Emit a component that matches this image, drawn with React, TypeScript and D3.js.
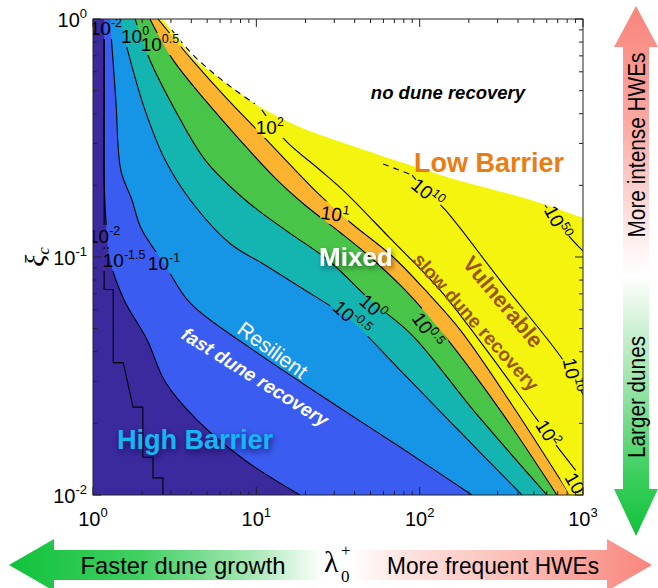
import React from 'react';
import * as d3 from 'd3';

type Pt = [number, number];

// axes
const lambdaDomain: Pt = [1, 1000];
const xiDomain: Pt = [0.01, 1];

// filled bands, lowest level first (the last one is everything above 10^1)
const bandColors = ['#3a2a9e', '#3a5cf0', '#1694e6', '#14b4b0', '#48c448', '#fcb430', '#f4f40e'];

// band boundaries, [lambda, xi], top edge -> bottom edge
const levelM15: Pt[] = [[1.17, 1], [1.17, 0.457], [1.17, 0.211], [1.2, 0.143], [1.27, 0.097], [1.55, 0.066], [2.14, 0.045], [2.76, 0.03], [4.33, 0.0207], [8.52, 0.014], [18.5, 0.01]];
const levelM1: Pt[] = [[1.27, 1], [1.38, 0.457], [1.48, 0.232], [1.73, 0.174], [1.97, 0.132], [2.76, 0.0926], [3.93, 0.0641], [9.15, 0.0415], [32.5, 0.0232], [75.8, 0.0159], [209, 0.01]];
const levelM05: Pt[] = [[1.46, 1], [1.69, 0.673], [2.08, 0.415], [2.76, 0.256], [3.93, 0.174], [6.9, 0.114], [11.3, 0.0926], [18.5, 0.0748], [37.5, 0.0543], [75.8, 0.0335], [177, 0.0184], [423, 0.01]];
const level0: Pt[] = [[1.81, 1], [2.23, 0.673], [3.18, 0.415], [4.85, 0.256], [8.52, 0.174], [15, 0.13], [27.5, 0.0971], [49.7, 0.066], [89.8, 0.047], [218, 0.0223], [602, 0.01]];
const level05: Pt[] = [[2.23, 1], [3.09, 0.673], [4.85, 0.457], [7.94, 0.31], [13, 0.215], [19.9, 0.165], [32.5, 0.127], [49.7, 0.1], [81.3, 0.0727], [133, 0.0494], [310, 0.0228], [693, 0.01]];
const level1: Pt[] = [[2.5, 1], [4.04, 0.673], [6.71, 0.457], [10.8, 0.326], [17.3, 0.232], [24.5, 0.182], [37.5, 0.14], [68.7, 0.1], [108, 0.0727], [177, 0.0494], [368, 0.0239], [833, 0.01]];

// edge of the no-recovery (white) region, top edge -> right edge
const recoveryEdge: Pt[] = [[2.65, 1], [3.31, 0.832], [4.1, 0.686], [5.59, 0.582], [7.4, 0.503], [10.8, 0.423], [17.3, 0.359], [24.5, 0.326], [37.5, 0.295], [91, 0.241], [153, 0.215], [474, 0.174], [1000, 0.146]];

// contour lines that are not band edges
const levelM2: Pt[] = [[1.17, 1], [1.17, 0.073], [1.33, 0.073], [1.33, 0.036], [1.53, 0.036], [1.76, 0.0234], [2.02, 0.0234], [2.02, 0.0144], [2.33, 0.0144], [2.33, 0.0118], [2.68, 0.0118], [2.68, 0.01]];
const level2: Pt[] = [[10.8, 0.415], [15, 0.31], [24.5, 0.232], [34.9, 0.1875], [65.8, 0.12], [133, 0.0727], [270, 0.0388], [602, 0.0182], [1000, 0.0116]];
const level2Dashed: Pt[] = [[3.04, 0.899], [3.93, 0.727], [5.35, 0.599], [7.4, 0.503], [9.8, 0.44]];
const level10: Pt[] = [[89.8, 0.221], [112, 0.186], [143, 0.158], [310, 0.08], [755, 0.0369], [932, 0.0287], [1000, 0.0265]];
const level10Dashed: Pt[] = [[59.7, 0.246], [89.8, 0.221]];
const level50: Pt[] = [[585, 0.165], [703, 0.14], [833, 0.121], [1000, 0.106]];

// inline contour labels (exponent of 10, where, rotation)
const contourLabels = [
  { exp: '-2', lambda: 1.2, xi: 0.917, angle: 0 },
  { exp: '0', lambda: 1.81, xi: 0.848, angle: 0 },
  { exp: '0.5', lambda: 2.57, xi: 0.785, angle: 0 },
  { exp: '2', lambda: 12.1, xi: 0.352, angle: 0 },
  { exp: '-2', lambda: 1.17, xi: 0.1225, angle: 0 },
  { exp: '-1.5', lambda: 1.55, xi: 0.0971, angle: 0 },
  { exp: '-1', lambda: 2.72, xi: 0.0944, angle: 0 },
  { exp: '1', lambda: 30.3, xi: 0.152, angle: 8 },
  { exp: '10', lambda: 112, xi: 0.186, angle: 40 },
  { exp: '50', lambda: 703, xi: 0.14, angle: 62 },
  { exp: '0', lambda: 51.8, xi: 0.0617, angle: 42 },
  { exp: '-0.5', lambda: 38.5, xi: 0.0554, angle: 42 },
  { exp: '0.5', lambda: 112, xi: 0.0494, angle: 55 },
  { exp: '10', lambda: 869, xi: 0.0319, angle: 78 },
  { exp: '2', lambda: 611, xi: 0.0182, angle: 58 },
  { exp: '1', lambda: 919, xi: 0.0109, angle: 60 },
];

const sans = "'Liberation Sans', Arial, Helvetica, sans-serif";
const serif = "'Liberation Serif', 'Times New Roman', serif";

export default function App() {
  const x = d3.scaleLog().domain(lambdaDomain).range([93, 583]);
  const y = d3.scaleLog().domain(xiDomain).range([495, 19]);
  const [left, right] = x.range();
  const [bottom, top] = y.range();

  const smooth = d3.line<Pt>().x(d => x(d[0])).y(d => y(d[1])).curve(d3.curveCatmullRom.alpha(0.5));
  const straight = d3.line<Pt>().x(d => x(d[0])).y(d => y(d[1]));

  const bounds = [levelM15, levelM1, levelM05, level0, level05, level1];
  const bandPath = (pts: Pt[]) => smooth(pts) + `L${right},${bottom}L${right},${top}Z`;
  const whitePath = smooth(recoveryEdge) + `L${right},${top}Z`;

  const isMajor = (v: number) => Math.abs(Math.log10(v) - Math.round(Math.log10(v))) < 1e-6;
  const xt = x.ticks();
  const yt = y.ticks();

  const labelW = (exp: string) => 22 + exp.length * 6.5;

  // arrows
  const vArrow: Pt[] = [[636, 6], [658, 47], [649, 47], [649, 489], [658, 489], [636, 536], [614, 489], [623, 489], [623, 47], [614, 47]];
  const hArrow: Pt[] = [[9, 565], [54, 539], [54, 550], [607, 550], [607, 539], [652, 565], [607, 591], [607, 580], [54, 580], [54, 591]];
  const polyPath = (p: Pt[]) => 'M' + p.map(d => d.join(',')).join('L') + 'Z';

  const lines = [levelM15, levelM1, levelM05, level0, level05, level1, level2, level10, level50];

  return (
    <svg width={658} height={588} style={{ position: 'absolute', left: 0, top: 0, background: '#fff' }} fontFamily={sans}>
      <defs>
        <clipPath id="plot">
          <rect x={left} y={top} width={right - left} height={bottom - top} />
        </clipPath>
        <mask id="gaps" maskUnits="userSpaceOnUse" x={0} y={0} width={658} height={588}>
          <rect x={0} y={0} width={658} height={588} fill="white" />
          {contourLabels.map((l, i) => (
            <rect key={i} transform={`translate(${x(l.lambda)},${y(l.xi)}) rotate(${l.angle})`}
              x={-labelW(l.exp) / 2} y={-11} width={labelW(l.exp)} height={22} fill="black" />
          ))}
        </mask>
        <linearGradient id="vgrad" gradientUnits="userSpaceOnUse" x1={0} y1={6} x2={0} y2={536}>
          <stop offset="0" stopColor="#f9857c" />
          <stop offset="0.22" stopColor="#fba9a2" />
          <stop offset="0.46" stopColor="#fff4f3" />
          <stop offset="0.51" stopColor="#ffffff" />
          <stop offset="0.56" stopColor="#e6f7e8" />
          <stop offset="0.75" stopColor="#88e09a" />
          <stop offset="0.88" stopColor="#3ecf60" />
          <stop offset="1" stopColor="#10c23a" />
        </linearGradient>
        <linearGradient id="hgrad" gradientUnits="userSpaceOnUse" x1={9} y1={0} x2={652} y2={0}>
          <stop offset="0" stopColor="#10c23a" />
          <stop offset="0.2" stopColor="#40cf62" />
          <stop offset="0.38" stopColor="#a8e8b5" />
          <stop offset="0.49" stopColor="#ffffff" />
          <stop offset="0.53" stopColor="#ffffff" />
          <stop offset="0.62" stopColor="#fde2df" />
          <stop offset="0.8" stopColor="#fbbab3" />
          <stop offset="1" stopColor="#f9857c" />
        </linearGradient>
        <filter id="shadow" x="-20%" y="-50%" width="140%" height="200%">
          <feDropShadow dx={2} dy={3} stdDeviation={2.5} floodColor="#000" floodOpacity={0.45} />
        </filter>
        <filter id="glow" x="-20%" y="-50%" width="140%" height="200%">
          <feDropShadow dx={1} dy={3} stdDeviation={3} floodColor="#140a50" floodOpacity={0.8} />
        </filter>
      </defs>

      {/* filled contours */}
      <g clipPath="url(#plot)">
        <rect x={left} y={top} width={right - left} height={bottom - top} fill={bandColors[0]} />
        {bounds.map((b, i) => (
          <path key={i} d={bandPath(b)} fill={bandColors[i + 1]} />
        ))}
        <path d={whitePath} fill="#fff" />
      </g>

      {/* contour lines */}
      <g clipPath="url(#plot)">
        <g mask="url(#gaps)" fill="none" stroke="#000" strokeWidth={1.1}>
          {lines.map((l, i) => <path key={i} d={smooth(l) || ''} />)}
          <path d={straight(levelM2) || ''} />
          <path d={smooth(level2Dashed) || ''} strokeDasharray="6,5" />
          <path d={straight(level10Dashed) || ''} strokeDasharray="6,5" />
        </g>
        {contourLabels.map((l, i) => (
          <text key={i} transform={`translate(${x(l.lambda)},${y(l.xi)}) rotate(${l.angle})`}
            textAnchor="middle" y={7} fontSize={19} fill="#000">
            10<tspan dy={-8} fontSize={12.5}>{l.exp}</tspan>
          </text>
        ))}
      </g>

      {/* region annotations */}
      <text x={x(149)} y={y(0.489)} textAnchor="middle" dominantBaseline="central" fontSize={18.5}
        fontWeight="bold" fontStyle="italic" fill="#000">no dune recovery</text>
      <text x={x(266)} y={y(0.248)} textAnchor="middle" dominantBaseline="central" fontSize={27}
        fontWeight="bold" fill="#ea7d14">Low Barrier</text>
      <text x={x(40.7)} y={y(0.1)} textAnchor="middle" dominantBaseline="central" fontSize={26}
        fontWeight="bold" fill="#fff" filter="url(#shadow)">Mixed</text>
      <text transform={`translate(${x(324)},${y(0.0647)}) rotate(50)`} textAnchor="middle" dominantBaseline="central"
        fontSize={22} fontWeight="bold" fill="#9b560a">Vulnerable</text>
      <text transform={`translate(${x(221)},${y(0.0533)}) rotate(48)`} textAnchor="middle" dominantBaseline="central"
        fontSize={19} fontWeight="bold" fill="#9b560a">slow dune recovery</text>
      <text transform={`translate(${x(12.6)},${y(0.0407)}) rotate(36)`} textAnchor="middle" dominantBaseline="central"
        fontSize={21} fill="#fff">Resilient</text>
      <text transform={`translate(${x(9.81)},${y(0.0313)}) rotate(32)`} textAnchor="middle" dominantBaseline="central"
        fontSize={19} fontWeight="bold" fontStyle="italic" fill="#fff">fast dune recovery</text>
      <text x={x(4.21)} y={y(0.017)} textAnchor="middle" dominantBaseline="central" fontSize={27}
        fontWeight="bold" fill="#18b6f4" filter="url(#glow)">High Barrier</text>

      {/* frame and ticks */}
      <g stroke="#222" strokeWidth={1}>
        <rect x={left} y={top} width={right - left} height={bottom - top} fill="none" />
        {xt.map((v, i) => {
          const len = isMajor(v) ? 8 : 4;
          return (
            <g key={i}>
              <line x1={x(v)} x2={x(v)} y1={bottom} y2={bottom - len} />
              <line x1={x(v)} x2={x(v)} y1={top} y2={top + len} />
            </g>
          );
        })}
        {yt.map((v, i) => {
          const len = isMajor(v) ? 8 : 4;
          return (
            <g key={i}>
              <line x1={left} x2={left + len} y1={y(v)} y2={y(v)} />
              <line x1={right} x2={right - len} y1={y(v)} y2={y(v)} />
            </g>
          );
        })}
      </g>
      {xt.filter(isMajor).map((v, i) => (
        <text key={i} x={x(v)} y={526} textAnchor="middle" fontSize={20} fill="#000">
          10<tspan dy={-9} fontSize={13}>{Math.round(Math.log10(v))}</tspan>
        </text>
      ))}
      {yt.filter(isMajor).map((v, i) => (
        <text key={i} x={87} y={y(v) + 8} textAnchor="end" fontSize={20} fill="#000">
          10<tspan dy={-9} fontSize={13}>{Math.round(Math.log10(v))}</tspan>
        </text>
      ))}

      {/* arrows */}
      <path d={polyPath(vArrow)} fill="url(#vgrad)" />
      <path d={polyPath(hArrow)} fill="url(#hgrad)" />
      <text transform="translate(645,145) rotate(-90)" textAnchor="middle" fontSize={23} textLength={185}
        lengthAdjust="spacingAndGlyphs" fill="#000">More intense HWEs</text>
      <text transform="translate(645,397) rotate(-90)" textAnchor="middle" fontSize={23} textLength={122}
        lengthAdjust="spacingAndGlyphs" fill="#000">Larger dunes</text>
      <text x={183} y={574} textAnchor="middle" fontSize={24} textLength={205}
        lengthAdjust="spacingAndGlyphs" fill="#000">Faster dune growth</text>
      <text x={493} y={574} textAnchor="middle" fontSize={24} textLength={212}
        lengthAdjust="spacingAndGlyphs" fill="#000">More frequent HWEs</text>

      {/* axis labels */}
      <text transform={`translate(44,${(top + bottom) / 2}) rotate(-90)`} textAnchor="middle" fontFamily={serif}
        fontSize={28} fontStyle="italic" fill="#000">
        ξ<tspan fontSize={17} dy={5}>c</tspan>
      </text>
      <text x={x(Math.sqrt(1000)) - 14} y={572} fontFamily={serif} fontSize={30} fill="#000">λ</text>
      <text x={x(Math.sqrt(1000)) + 3} y={582} fontFamily={serif} fontSize={17} fill="#000">0</text>
      <text x={x(Math.sqrt(1000)) + 3} y={556} fontFamily={serif} fontSize={17} fill="#000">+</text>
    </svg>
  );
}
